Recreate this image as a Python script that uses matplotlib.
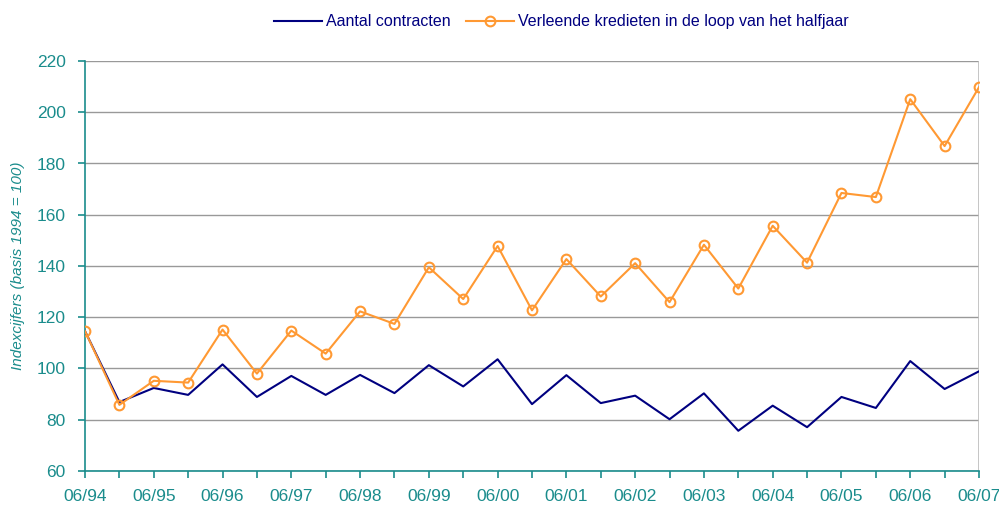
import matplotlib
matplotlib.use("Agg")
import matplotlib.pyplot as plt

# === Dados (indexcijfers, basis 1994 = 100) ===
periodes = ["06/94", "12/94", "06/95", "12/95", "06/96", "12/96", "06/97", "12/97",
            "06/98", "12/98", "06/99", "12/99", "06/00", "12/00", "06/01", "12/01",
            "06/02", "12/02", "06/03", "12/03", "06/04", "12/04", "06/05", "12/05",
            "06/06", "12/06", "06/07"]
aantal_contracten = [114.6, 86.9, 92.4, 89.7, 101.6, 88.9, 97.1, 89.7,
                     97.5, 90.4, 101.3, 93.0, 103.6, 86.1, 97.4, 86.5,
                     89.4, 80.2, 90.3, 75.7, 85.5, 77.1, 88.9, 84.6,
                     102.9, 92.0, 98.9]
verleende_kredieten = [114.6, 85.8, 95.2, 94.5, 115.2, 98.0, 114.8, 105.8,
                       122.3, 117.4, 139.5, 127.1, 147.8, 122.7, 142.7, 128.1,
                       141.1, 125.9, 148.3, 131.2, 155.7, 141.3, 168.5, 166.9,
                       205.1, 186.8, 209.8]

teal = "#1a8c8c"
navy = "#000080"
oranje = "#ff9933"

plt.rcParams["font.family"] = ["Liberation Sans", "DejaVu Sans"]

fig = plt.figure(figsize=(9.99, 5.05), dpi=100)
ax = fig.add_axes([85 / 999, 34 / 505, 894 / 999, 410 / 505])

x = list(range(len(periodes)))
ax.plot(x, aantal_contracten, color=navy, lw=1.5, label="Aantal contracten", zorder=3)
ax.plot(x, verleende_kredieten, color=oranje, lw=1.5, marker="o", markersize=7,
        markerfacecolor="none", markeredgewidth=1.5,
        label="Verleende kredieten in de loop van het halfjaar", zorder=4)

ax.set_xlim(0, len(periodes) - 1)
ax.set_ylim(60, 220)
ax.set_yticks(range(60, 221, 20))
ax.set_xticks(x)
ax.set_xticklabels([p if p.startswith("06") else "" for p in periodes])

ax.grid(axis="y", color="#999999", lw=1)
ax.set_axisbelow(True)

for side in ["top", "right"]:
    ax.spines[side].set_visible(False)
for side in ["left", "bottom"]:
    ax.spines[side].set_color(teal)
    ax.spines[side].set_linewidth(1.2)
ax.axvline(len(periodes) - 1, color="#bbbbbb", lw=1.2, zorder=1)

ax.tick_params(axis="both", colors=teal, direction="out", length=5, width=1.2,
               labelsize=12.5, labelcolor=teal)
ax.tick_params(axis="x", pad=8)
ax.tick_params(axis="y", pad=9)

ax.set_ylabel("Indexcijfers (basis 1994 = 100)", color=teal, fontsize=11,
              style="italic", labelpad=8)

leg = fig.legend(loc="upper center", bbox_to_anchor=(0.562, 1.0), ncol=2, frameon=False,
                 fontsize=11.5, handlelength=3.0, columnspacing=1.0, handletextpad=0.25)
for t in leg.get_texts():
    t.set_color(navy)

fig.savefig("out.png", dpi=100)
